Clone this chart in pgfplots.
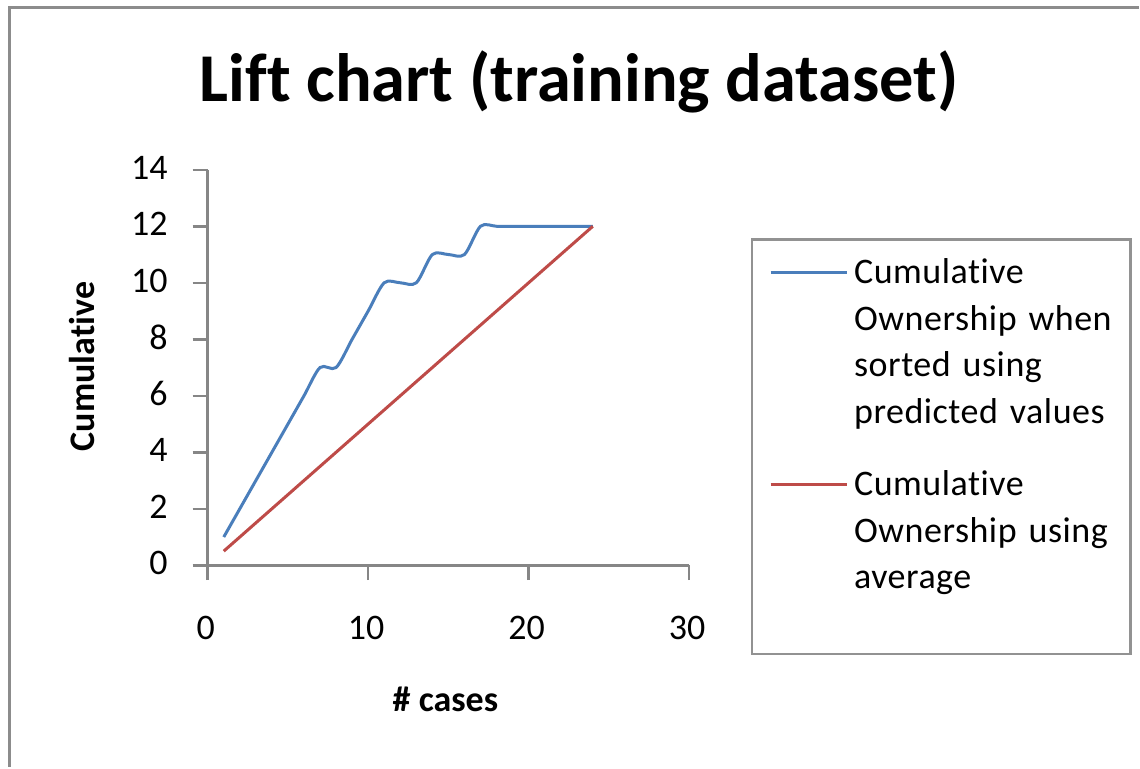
\documentclass[border=0pt]{standalone}
\usepackage{pgfplots}
\pgfplotsset{compat=1.18}
\usepackage{fontspec}
\setmainfont{Carlito}[Ligatures={NoCommon}]
\newfontfamily\legendfamily{Carlito}[Ligatures={NoCommon}, WordSpace=0.6, LetterSpace=1.5]
\definecolor{xlblue}{HTML}{4A7EBB}
\definecolor{xlred}{HTML}{BE4B48}
\definecolor{xlgray}{HTML}{868686}
\DeclareRobustCommand\legfont{\legendfamily\fontsize{36}{46.5}\selectfont}
\begin{document}
\begin{tikzpicture}[x=1pt,y=1pt]
\fill[white] (-208,-202) rectangle (932,566);
\begin{axis}[
  scale only axis, width=482pt, height=396pt,
  xmin=0, xmax=30, ymin=0, ymax=14,
  xtick={0,10,20,30}, ytick={0,2,...,14},
  axis lines=left,
  axis line style={-, draw=xlgray, line width=2.5pt},
  tick align=outside, major tick length=15pt,
  tick style={draw=xlgray, line width=2.5pt},
  ticklabel style={font=\fontsize{36}{40}\selectfont},
  /pgf/number format/assume math mode=true,
  yticklabel style={anchor=east, inner sep=0pt, xshift=-25pt, yshift=2pt},
  xticklabel style={anchor=north, inner sep=0pt, yshift=-36pt, xshift=-2pt},
  ylabel={Cumulative}, xlabel={\# cases},
  label style={font=\fontsize{36}{40}\selectfont\bfseries},
  ylabel style={at={(axis description cs:-0.2344,0.5025)}, anchor=base},
  xlabel style={at={(axis description cs:0.4938,-0.3687)}, anchor=base},
  legend style={draw=none, fill=none, at={(axis description cs:1.166,0.780)}, anchor=north west,
    inner sep=0pt, row sep=38pt, column sep=4pt,
    font=\legfont,
    nodes={text width=275pt, align=left, anchor=base west, inner sep=2pt, text depth=}},
  legend image code/.code={\draw[#1, yshift=11pt] (0pt,0pt) -- (76pt,0pt);},
  clip=false,
]
\addplot[xlblue, line width=3pt, smooth, tension=0.5] coordinates {
(1,1) (2,2) (3,3) (4,4) (5,5) (6,6) (7,7) (8,7) (9,8) (10,9) (11,10) (12,10)
(13,10) (14,11) (15,11) (16,11) (17,12) (18,12) (19,12) (20,12) (21,12) (22,12) (23,12) (24,12)};
\addlegendentry{Cumulative\\Ownership when\\sorted using\\predicted values}
\addplot[xlred, line width=3pt] coordinates {
(1,0.5) (2,1) (3,1.5) (4,2) (5,2.5) (6,3) (7,3.5) (8,4) (9,4.5) (10,5) (11,5.5) (12,6)
(13,6.5) (14,7) (15,7.5) (16,8) (17,8.5) (18,9) (19,9.5) (20,10) (21,10.5) (22,11) (23,11.5) (24,12)};
\addlegendentry{Cumulative\\Ownership using\\average}
\end{axis}
\begin{scope}[shift={(-208,-202)}]
\draw[xlgray!95, line width=3pt] (10,0) -- (10,760) -- (1140,760);
\node[font=\fontsize{68.5}{80}\selectfont\bfseries, anchor=base, inner sep=0pt] at (580,666) {Lift chart (training dataset)};
\draw[xlgray!90, line width=2.5pt] (753,113) rectangle (1132,528);
\end{scope}
\end{tikzpicture}
\end{document}
